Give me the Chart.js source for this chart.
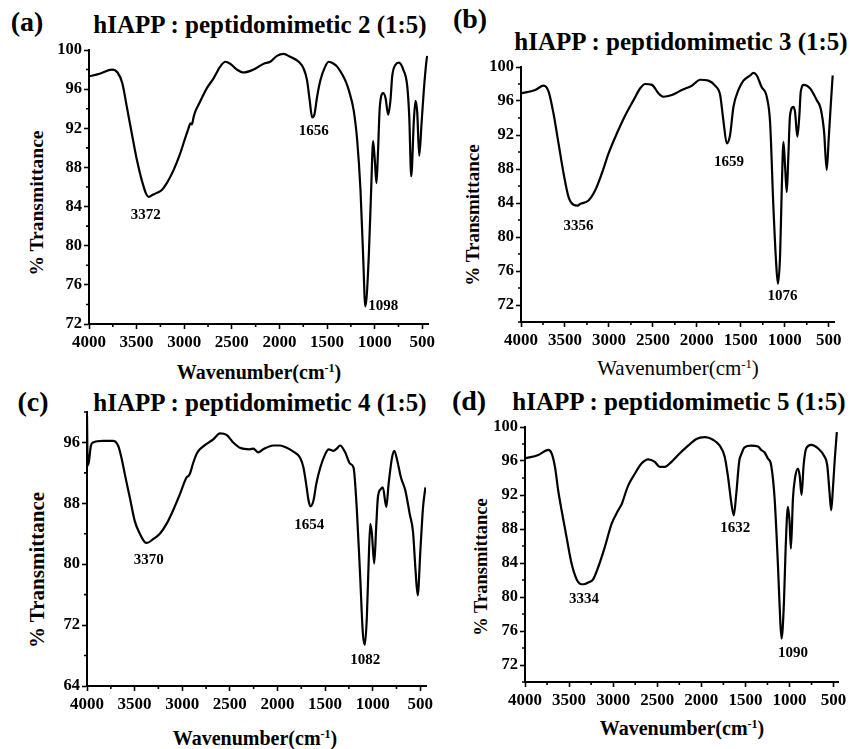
<!DOCTYPE html>
<html>
<head>
<meta charset="utf-8">
<script src="https://cdn.jsdelivr.net/npm/chart.js@4.4.1/dist/chart.umd.min.js"></script>
<style>
    body { margin: 0; background: #fff; width: 852px; height: 749px; position: relative; overflow: hidden;
           font-family: 'Liberation Serif', 'Times New Roman', serif; color: #000; }
    canvas { position: absolute; }
    .t { position: absolute; white-space: nowrap; line-height: 1; font-weight: bold; transform: translate(-50%, -60%); }
    .yt { transform: translate(-50%, -50%) rotate(-90deg); }
    .nb { font-weight: normal; }
    sup { font-size: 60%; vertical-align: 0.55em; line-height: 0; }
</style>
</head>
<body>

<div class="t" style="left:27px;top:25px;font-size:28px">(a)</div>
<div class="t" style="left:260px;top:27px;font-size:25px">hIAPP : peptidomimetic 2 (1:5)</div>
<div class="t yt" style="left:37px;top:203px;font-size:19.5px">% Transmittance</div>
<div class="t" style="left:259px;top:374px;font-size:20px">Wavenumber(cm<sup>-1</sup>)</div>

<div class="t" style="left:470px;top:22px;font-size:28px">(b)</div>
<div class="t" style="left:681px;top:44px;font-size:25px">hIAPP : peptidomimetic 3 (1:5)</div>
<div class="t yt" style="left:472px;top:215px;font-size:19px">% Transmittance</div>
<div class="t nb" style="left:678px;top:371px;font-size:21px">Wavenumber(cm<sup>-1</sup>)</div>

<div class="t" style="left:33px;top:405px;font-size:28px">(c)</div>
<div class="t" style="left:260px;top:405px;font-size:25px">hIAPP : peptidomimetic 4 (1:5)</div>
<div class="t yt" style="left:37px;top:570px;font-size:21px">% Transmittance</div>
<div class="t" style="left:255px;top:740px;font-size:20px">Wavenumber(cm<sup>-1</sup>)</div>

<div class="t" style="left:469px;top:404px;font-size:28px">(d)</div>
<div class="t" style="left:679px;top:404px;font-size:25px">hIAPP : peptidomimetic 5 (1:5)</div>
<div class="t yt" style="left:481px;top:567px;font-size:18.5px">% Transmittance</div>
<div class="t" style="left:682px;top:730px;font-size:20px">Wavenumber(cm<sup>-1</sup>)</div>

<script>
const FONT = "'Liberation Serif', 'Times New Roman', serif";

// x axis ticks (wavenumber, cm-1), shared by all panels
const xMajor = [4000, 3500, 3000, 2500, 2000, 1500, 1000, 500];
const xMinor = [3750, 3250, 2750, 2250, 1750, 1250, 750];

// (a) hIAPP : peptidomimetic 2
const waveA  = [4000, 3880, 3760, 3700, 3650, 3603, 3551, 3498, 3446, 3400, 3372, 3330, 3288, 3235, 3183, 3113, 3043, 2990, 2955, 2935, 2920, 2900, 2880, 2850, 2762, 2692, 2622, 2569, 2517, 2446, 2377, 2272, 2166, 2096, 2026, 1956, 1886, 1798, 1746, 1710, 1683, 1656, 1633, 1605, 1570, 1520, 1483, 1430, 1394, 1340, 1300, 1272, 1220, 1184, 1149, 1121, 1098, 1062, 1037, 1016, 999, 981, 967, 946, 910, 886, 858, 834, 816, 781, 746, 700, 658, 637, 616, 588, 571, 553, 532, 507, 483, 455, 448];
const transA = [97.3, 97.6, 98.0, 97.7, 96.6, 94.2, 91.5, 88.8, 86.7, 85.3, 85.0, 85.2, 85.4, 85.7, 86.4, 87.7, 89.4, 91.0, 92.0, 92.5, 92.4, 93.2, 93.8, 94.4, 96.1, 97.1, 98.3, 98.8, 98.6, 98.0, 97.7, 98.0, 98.6, 98.8, 99.4, 99.6, 99.3, 98.8, 98.1, 96.9, 94.9, 93.1, 93.4, 95.2, 96.9, 98.3, 98.8, 98.6, 98.3, 97.5, 96.7, 95.9, 93.8, 90.8, 85.7, 78.9, 73.8, 78.9, 85.7, 90.7, 88.8, 86.4, 89.1, 94.2, 95.6, 95.1, 93.4, 94.9, 97.3, 98.5, 98.7, 98.0, 96.3, 93.2, 87.1, 92.9, 94.8, 93.6, 89.2, 92.6, 96.0, 99.0, 99.4];
const yMajorA = [72, 76, 80, 84, 88, 92, 96, 100];
const yMinorA = [74, 78, 82, 86, 90, 94, 98];
const peakTextA  = ['3372', '1656', '1098'];
const peakWaveA  = [3404, 1640, 910];
const peakTransA = [83.1, 91.7, 73.8];

// (b) hIAPP : peptidomimetic 3
const waveB  = [4000, 3838, 3743, 3686, 3630, 3573, 3516, 3459, 3402, 3356, 3326, 3232, 3156, 3080, 3005, 2909, 2815, 2720, 2644, 2588, 2511, 2436, 2380, 2284, 2170, 2057, 1962, 1868, 1792, 1735, 1698, 1659, 1622, 1584, 1527, 1470, 1394, 1357, 1318, 1261, 1224, 1205, 1167, 1130, 1099, 1078, 1053, 1034, 1015, 997, 977, 959, 940, 902, 883, 857, 834, 818, 781, 713, 636, 591, 553, 523, 500, 477, 455];
const transB = [96.9, 97.3, 97.8, 97.1, 94.5, 91.0, 87.5, 84.7, 83.8, 83.7, 83.9, 84.3, 85.5, 87.5, 89.8, 92.2, 94.3, 96.1, 97.5, 98.0, 97.9, 96.9, 96.5, 96.7, 97.3, 97.8, 98.5, 98.4, 97.8, 96.7, 93.7, 91.0, 92.0, 95.3, 97.3, 98.4, 99.0, 99.3, 99.0, 97.6, 97.1, 96.5, 93.5, 83.7, 77.1, 74.5, 77.9, 85.7, 91.2, 88.4, 85.3, 89.6, 94.3, 95.3, 94.7, 91.8, 94.3, 97.1, 97.9, 97.5, 96.1, 95.1, 92.4, 87.9, 91.6, 95.5, 99.0];
const yMajorB = [72, 76, 80, 84, 88, 92, 96, 100];
const yMinorB = [70, 74, 78, 82, 86, 90, 94, 98];
const peakTextB  = ['3356', '1659', '1076'];
const peakWaveB  = [3345, 1633, 1027];
const peakTransB = [81.3, 88.8, 73.0];

// (c) hIAPP : peptidomimetic 4
const waveC  = [4000, 3993, 3980, 3960, 3936, 3832, 3727, 3674, 3638, 3604, 3551, 3499, 3445, 3393, 3370, 3306, 3235, 3165, 3095, 3024, 2955, 2935, 2919, 2885, 2849, 2815, 2744, 2674, 2604, 2534, 2464, 2394, 2289, 2254, 2201, 2149, 2044, 1973, 1903, 1833, 1762, 1727, 1698, 1674, 1654, 1621, 1593, 1550, 1497, 1463, 1412, 1377, 1341, 1289, 1237, 1201, 1166, 1131, 1103, 1082, 1061, 1044, 1025, 1008, 984, 963, 945, 913, 893, 857, 833, 797, 773, 738, 703, 657, 611, 576, 552, 527, 499, 471, 446];
const transC = [99.5, 93.0, 93.5, 95.5, 96.0, 96.2, 96.2, 95.6, 94.0, 91.9, 88.8, 85.7, 84.0, 82.9, 82.8, 83.3, 84.0, 85.3, 87.1, 89.2, 91.4, 91.6, 91.9, 93.3, 94.5, 95.1, 95.8, 96.4, 97.2, 97.0, 96.0, 95.3, 95.1, 95.2, 94.7, 95.1, 95.6, 95.6, 95.3, 94.8, 94.0, 92.7, 90.5, 88.4, 87.6, 88.4, 90.5, 92.7, 94.5, 95.1, 94.9, 95.2, 95.6, 94.7, 93.2, 92.7, 87.1, 78.3, 70.9, 69.4, 73.1, 79.6, 85.3, 84.0, 80.1, 84.9, 88.8, 89.9, 90.1, 87.5, 90.5, 94.0, 94.9, 93.4, 91.4, 89.7, 86.6, 84.2, 79.6, 75.9, 81.8, 87.5, 90.1];
const yMajorC = [64, 72, 80, 88, 96];
const yMinorC = [68, 76, 84, 92, 100];
const peakTextC  = ['3370', '1654', '1082'];
const peakWaveC  = [3351, 1665, 1079];
const peakTransC = [80.5, 85.1, 67.4];

// (d) hIAPP : peptidomimetic 5
const waveD  = [4000, 3849, 3736, 3698, 3660, 3623, 3585, 3528, 3471, 3415, 3358, 3334, 3283, 3226, 3170, 3094, 3018, 2943, 2900, 2887, 2830, 2754, 2679, 2603, 2528, 2471, 2415, 2339, 2264, 2150, 2056, 1961, 1867, 1791, 1735, 1697, 1659, 1632, 1605, 1570, 1546, 1510, 1434, 1357, 1321, 1282, 1246, 1208, 1169, 1131, 1104, 1090, 1063, 1044, 1018, 999, 984, 961, 939, 905, 885, 863, 840, 810, 753, 678, 602, 572, 546, 527, 508, 486, 463];
const transD = [96.3, 96.7, 97.3, 96.9, 95.3, 92.5, 90.2, 87.0, 83.9, 82.1, 81.5, 81.5, 81.7, 82.1, 83.5, 85.9, 88.6, 90.2, 91.0, 91.4, 93.1, 94.5, 95.7, 96.2, 95.9, 95.3, 95.3, 95.9, 96.7, 97.8, 98.6, 98.8, 98.5, 97.8, 96.5, 94.1, 91.0, 89.6, 92.0, 96.0, 96.8, 97.6, 97.8, 97.7, 97.3, 97.0, 96.3, 95.5, 91.6, 83.7, 77.0, 75.1, 79.4, 85.7, 90.6, 88.8, 85.7, 91.6, 93.9, 95.1, 94.3, 92.0, 95.5, 97.5, 97.9, 97.5, 96.5, 95.5, 92.3, 90.2, 92.7, 96.3, 99.4];
const yMajorD = [72, 76, 80, 84, 88, 92, 96, 100];
const yMinorD = [70, 74, 78, 82, 86, 90, 94, 98];
const peakTextD  = ['3334', '1632', '1090'];
const peakWaveD  = [3332, 1614, 961];
const peakTransD = [79.8, 88.1, 73.4];

// plot area of each panel on the page: left, top, width, height
const panels = [
    { box: [89, 50, 339, 274],  wave: waveA, trans: transA, xMin: 440, yMin: 72, yMax: 100, yMajor: yMajorA, yMinor: yMinorA, peaks: { text: peakTextA, wave: peakWaveA, trans: peakTransA } },
    { box: [521, 67, 313, 255], wave: waveB, trans: transB, xMin: 440, yMin: 70, yMax: 100, yMajor: yMajorB, yMinor: yMinorB, peaks: { text: peakTextB, wave: peakWaveB, trans: peakTransB } },
    { box: [87, 412, 339, 274], wave: waveC, trans: transC, xMin: 440, yMin: 64, yMax: 100, yMajor: yMajorC, yMinor: yMinorC, peaks: { text: peakTextC, wave: peakWaveC, trans: peakTransC } },
    { box: [525, 427, 313, 255], wave: waveD, trans: transD, xMin: 450, yMin: 70, yMax: 100, yMajor: yMajorD, yMinor: yMinorD, peaks: { text: peakTextD, wave: peakWaveD, trans: peakTransD } }
];

// peak wavenumber labels (data coordinates) and short minor ticks
const peakLabels = {
    id: 'peakLabels',
    afterDatasetsDraw(chart, args, opts) {
        const { ctx, scales: { x, y }, chartArea: a } = chart;
        ctx.save();
        ctx.font = 'bold 15px ' + FONT;
        ctx.fillStyle = '#000';
        ctx.textAlign = 'center';
        ctx.textBaseline = 'middle';
        opts.text.forEach((t, i) => {
            ctx.fillText(t, x.getPixelForValue(opts.wave[i]), y.getPixelForValue(opts.trans[i]));
        });

        ctx.strokeStyle = '#000';
        ctx.lineWidth = 1.6;
        ctx.beginPath();
        xMinor.forEach(v => {
            const px = x.getPixelForValue(v);
            ctx.moveTo(px, a.bottom); ctx.lineTo(px, a.bottom + 3);
        });
        opts.yMinor.forEach(v => {
            const py = y.getPixelForValue(v);
            ctx.moveTo(a.left - 3, py); ctx.lineTo(a.left, py);
        });
        ctx.stroke();
        ctx.restore();
    }
};

Chart.defaults.font.family = FONT;
Chart.defaults.color = '#000';

panels.forEach(p => {
    const [L, T, W, H] = p.box;
    const cv = document.createElement('canvas');
    cv.width = W + 100;
    cv.height = H + 80;
    cv.style.left = (L - 80) + 'px';
    cv.style.top = (T - 20) + 'px';
    document.body.appendChild(cv);

    new Chart(cv, {
        type: 'line',
        data: {
            datasets: [{
                data: p.wave.map((w, i) => ({ x: w, y: p.trans[i] })),
                borderColor: '#000',
                borderWidth: 2.2,
                pointRadius: 0,
                cubicInterpolationMode: 'monotone',
                fill: false
            }]
        },
        options: {
            responsive: false,
            animation: false,
            devicePixelRatio: 1,
            layout: { padding: 20 },
            plugins: {
                legend: { display: false },
                tooltip: { enabled: false },
                peakLabels: Object.assign({ yMinor: p.yMinor }, p.peaks)
            },
            scales: {
                x: {
                    type: 'linear',
                    reverse: true,
                    min: p.xMin,
                    max: 4000,
                    afterBuildTicks: s => { s.ticks = xMajor.map(v => ({ value: v })); },
                    afterFit: s => { s.height = 40; },
                    ticks: {
                        autoSkip: false,
                        maxRotation: 0,
                        padding: 3,
                        font: { size: 17, weight: 'bold' },
                        callback: v => String(v)
                    },
                    grid: { drawOnChartArea: false, tickLength: 5, tickWidth: 1.6, tickColor: '#000' },
                    border: { display: true, color: '#000', width: 2 }
                },
                y: {
                    type: 'linear',
                    min: p.yMin,
                    max: p.yMax,
                    afterBuildTicks: s => { s.ticks = p.yMajor.map(v => ({ value: v })); },
                    afterFit: s => { s.width = 60; },
                    ticks: {
                        autoSkip: false,
                        padding: 2,
                        font: { size: 16.5, weight: 'bold' },
                        callback: v => String(v)
                    },
                    grid: { drawOnChartArea: false, tickLength: 5, tickWidth: 1.6, tickColor: '#000' },
                    border: { display: true, color: '#000', width: 2 }
                }
            }
        },
        plugins: [peakLabels]
    });
});
</script>
</body>
</html>
